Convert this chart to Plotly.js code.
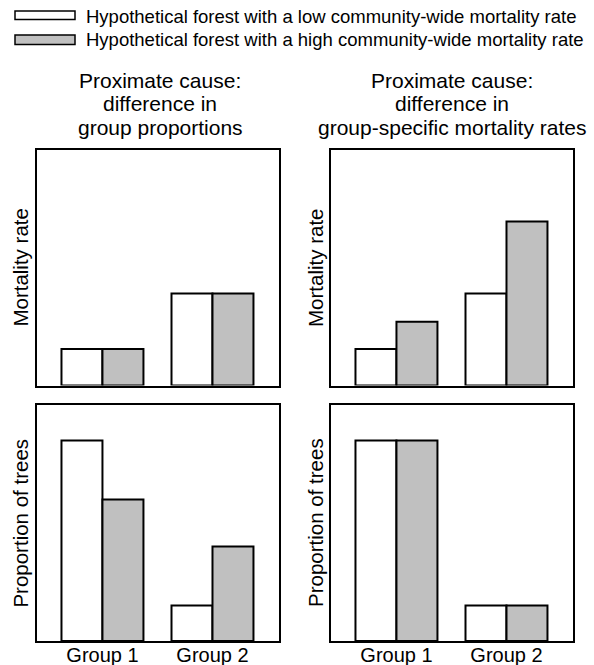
<!DOCTYPE html>
<html>
<head>
<meta charset="utf-8">
<script src="https://cdn.plot.ly/plotly-3.0.1.min.js"></script>
<style>html,body{margin:0;padding:0;background:#fff;}#chart{width:594px;height:665px;}</style>
</head>
<body>
<div id="chart"></div>
<script>
// ---- data ----
const groups = ['Group 1', 'Group 2'];
const seriesNames = [
  'Hypothetical forest with a low community-wide mortality rate',
  'Hypothetical forest with a high community-wide mortality rate'
];
const columnTitles = [
  ['Proximate cause:', 'difference in', 'group proportions'],
  ['Proximate cause:', 'difference in', 'group-specific mortality rates']
];
const rowTitles = ['Mortality rate', 'Proportion of trees'];

// left column: difference in group proportions
const mortalityPropLow  = [0.155, 0.39];
const mortalityPropHigh = [0.155, 0.39];
const proportionPropLow  = [0.85, 0.15];
const proportionPropHigh = [0.60, 0.40];
// right column: difference in group-specific mortality rates
const mortalityRateLow  = [0.155, 0.39];
const mortalityRateHigh = [0.27, 0.695];
const proportionRateLow  = [0.85, 0.15];
const proportionRateHigh = [0.85, 0.15];

// ---- styling ----
const W = 594, H = 665;
const FONT = 'Liberation Sans, Arial, Helvetica, sans-serif';
const fills = ['#ffffff', '#c0c0c0'];
const px = v => v / W;
const py = v => 1 - v / H;

function bar(xa, ya, vals, k) {
  return {
    type: 'bar', x: groups, y: vals, name: seriesNames[k],
    xaxis: xa, yaxis: ya, showlegend: false,
    marker: {color: fills[k], line: {color: '#000', width: 2}},
    hoverinfo: 'skip'
  };
}

const data = [
  bar('x', 'y', mortalityPropLow, 0),   bar('x', 'y', mortalityPropHigh, 1),
  bar('x2', 'y2', mortalityRateLow, 0), bar('x2', 'y2', mortalityRateHigh, 1),
  bar('x3', 'y3', proportionPropLow, 0), bar('x3', 'y3', proportionPropHigh, 1),
  bar('x4', 'y4', proportionRateLow, 0), bar('x4', 'y4', proportionRateHigh, 1)
];

const colDom = [[px(37), px(278.5)], [px(331), px(572.5)]];
const rowDom = [[py(385.5), py(149.5)], [py(641), py(405)]];

function xax(col, row, anchor) {
  return {
    domain: colDom[col], anchor: anchor, type: 'category',
    range: [-0.595, 1.6], showgrid: false, zeroline: false,
    showline: true, mirror: true, linecolor: '#000', linewidth: 2,
    ticks: '', showticklabels: row === 1, ticklabelstandoff: -5,
    tickfont: {family: FONT, size: 20, color: '#000'}, fixedrange: true
  };
}
function yax(col, row, anchor) {
  return {
    domain: rowDom[row], anchor: anchor, range: [0, 1],
    showgrid: false, zeroline: false, showticklabels: false, ticks: '',
    showline: true, mirror: true, linecolor: '#000', linewidth: 2, fixedrange: true
  };
}

const annotations = [];
// legend text
seriesNames.forEach((n, i) => {
  annotations.push({
    xref: 'paper', yref: 'paper', x: px(83.5), y: py([16, 39.5][i]),
    xanchor: 'left', yanchor: 'middle', showarrow: false, text: n,
    font: {family: FONT, size: 18.5, color: '#000'}
  });
});
// column titles
const colCenters = [160, 452];
const lineCenters = [80.2, 103.7, 127.2];
columnTitles.forEach((lines, c) => {
  lines.forEach((t, j) => {
    annotations.push({
      xref: 'paper', yref: 'paper', x: px(colCenters[c]), y: py(lineCenters[j]),
      xanchor: 'center', yanchor: 'middle', showarrow: false, text: t,
      font: {family: FONT, size: 21, color: '#000'}
    });
  });
});
// row (y-axis) titles, both columns
const rowCenters = [268, 523];
const colTitleX = [19.6, 315];
rowTitles.forEach((t, r) => {
  colTitleX.forEach(cx => {
    annotations.push({
      xref: 'paper', yref: 'paper', x: px(cx), y: py(rowCenters[r]),
      xanchor: 'center', yanchor: 'middle', textangle: -90, showarrow: false, text: t,
      font: {family: FONT, size: 20.5, color: '#000'}
    });
  });
});

const shapes = [
  {type: 'rect', xref: 'paper', yref: 'paper', x0: px(15), x1: px(75), y0: py(19.5), y1: py(11),
   fillcolor: fills[0], line: {color: '#000', width: 1.5}},
  {type: 'rect', xref: 'paper', yref: 'paper', x0: px(15), x1: px(75), y0: py(44.5), y1: py(35),
   fillcolor: fills[1], line: {color: '#000', width: 1.5}}
];

const layout = {
  width: W, height: H,
  margin: {l: 0, r: 0, t: 0, b: 0},
  paper_bgcolor: '#fff', plot_bgcolor: '#fff',
  barmode: 'group', bargap: 0.255, bargroupgap: 0,
  font: {family: FONT, color: '#000'},
  xaxis: xax(0, 0, 'y'), yaxis: yax(0, 0, 'x'),
  xaxis2: xax(1, 0, 'y2'), yaxis2: yax(1, 0, 'x2'),
  xaxis3: xax(0, 1, 'y3'), yaxis3: yax(0, 1, 'x3'),
  xaxis4: xax(1, 1, 'y4'), yaxis4: yax(1, 1, 'x4'),
  annotations: annotations, shapes: shapes
};

Plotly.newPlot('chart', data, layout, {staticPlot: true, displayModeBar: false});
</script>
</body>
</html>
